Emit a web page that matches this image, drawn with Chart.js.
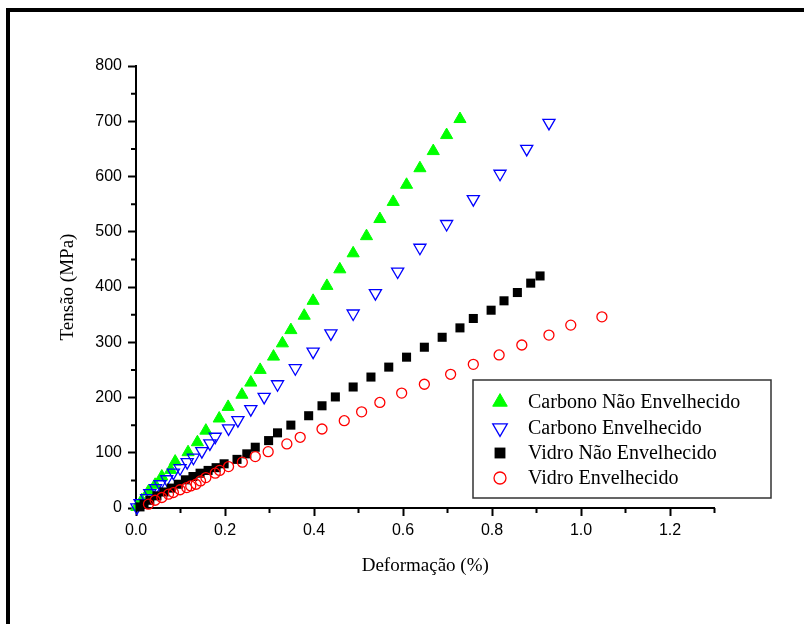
<!DOCTYPE html>
<html>
<head>
<meta charset="utf-8">
<script src="https://cdn.jsdelivr.net/npm/chart.js@4.4.0/dist/chart.umd.min.js"></script>
<style>
  body { margin: 0; background: #fff; }
  #wrap { position: relative; width: 804px; height: 624px; }
  #frame { position: absolute; left: 6px; top: 8px; right: 0; bottom: 0; border-top: 4px solid #000; border-left: 4px solid #000; pointer-events: none; }
</style>
</head>
<body>
<div id="wrap">
  <canvas id="grafico" width="804" height="624"></canvas>
  <div id="frame"></div>
</div>
<script>
// valores
const xTicks = [0, 0.2, 0.4, 0.6, 0.8, 1.0, 1.2]
const xMinor = [0.1, 0.3, 0.5, 0.7, 0.9, 1.1, 1.3]
const yTicks = [0, 100, 200, 300, 400, 500, 600, 700, 800]
const yMinor = [50, 150, 250, 350, 450, 550, 650, 750]

const nomes = ['Carbono Não Envelhecido', 'Carbono Envelhecido', 'Vidro Não Envelhecido', 'Vidro Envelhecido']

const carbNaoX = [0.002, 0.013, 0.028, 0.043, 0.058, 0.078, 0.088, 0.117, 0.138, 0.157, 0.187, 0.207, 0.238, 0.258, 0.279, 0.309, 0.329, 0.348, 0.378, 0.398, 0.429, 0.458, 0.488, 0.518, 0.548, 0.578, 0.608, 0.638, 0.668, 0.698, 0.728]
const carbNaoY = [2, 14, 30, 42, 57, 69, 84, 101, 119, 140, 162, 183, 205, 227, 250, 274, 298, 322, 348, 375, 402, 432, 461, 492, 523, 554, 585, 615, 646, 675, 704]

const carbEnvX = [0.002, 0.009, 0.024, 0.031, 0.044, 0.054, 0.069, 0.084, 0.099, 0.115, 0.129, 0.148, 0.166, 0.178, 0.208, 0.229, 0.258, 0.288, 0.318, 0.358, 0.398, 0.438, 0.488, 0.538, 0.588, 0.638, 0.698, 0.758, 0.818, 0.878, 0.928]
const carbEnvY = [1, 9, 18, 27, 36, 43, 52, 64, 72, 83, 91, 103, 117, 129, 144, 159, 179, 201, 224, 253, 283, 316, 352, 389, 428, 471, 514, 559, 605, 650, 697]

const vidNaoX = [0.009, 0.018, 0.031, 0.047, 0.063, 0.079, 0.095, 0.111, 0.128, 0.144, 0.162, 0.180, 0.198, 0.227, 0.249, 0.268, 0.298, 0.318, 0.348, 0.388, 0.418, 0.448, 0.488, 0.528, 0.568, 0.608, 0.648, 0.688, 0.728, 0.758, 0.798, 0.827, 0.857, 0.887, 0.908]
const vidNaoY = [2, 7, 14, 22, 29, 36, 43, 51, 57, 63, 68, 73, 80, 88, 98, 110, 122, 136, 150, 167, 185, 201, 219, 237, 255, 273, 291, 309, 326, 343, 358, 375, 390, 407, 420]

const vidEnvX = [0.028, 0.043, 0.058, 0.073, 0.084, 0.099, 0.114, 0.123, 0.135, 0.145, 0.157, 0.178, 0.188, 0.208, 0.239, 0.268, 0.297, 0.339, 0.369, 0.418, 0.468, 0.507, 0.548, 0.597, 0.648, 0.707, 0.758, 0.816, 0.867, 0.928, 0.977, 1.047]
const vidEnvY = [7, 14, 19, 25, 28, 33, 37, 40, 43, 49, 55, 63, 68, 75, 83, 93, 102, 116, 128, 143, 158, 174, 191, 208, 224, 242, 260, 277, 295, 313, 331, 346]

function pontos(xs, ys) {
  return xs.map((x, i) => ({ x: x, y: ys[i] }))
}

const fonteNum = { family: "'Liberation Sans', Arial, sans-serif", size: 16 }
const fonteTitulo = { family: "'Liberation Serif', 'Times New Roman', serif", size: 19 }

// ticks menores (o Chart.js nao tem)
const ticksMenores = {
  id: 'ticksMenores',
  afterDraw(chart) {
    const ctx = chart.ctx
    const sx = chart.scales.x
    const sy = chart.scales.y
    ctx.save()
    ctx.strokeStyle = '#000'
    ctx.lineWidth = 2
    ctx.beginPath()
    xMinor.forEach(v => {
      const px = sx.getPixelForValue(v)
      ctx.moveTo(px, sx.top)
      ctx.lineTo(px, sx.top + 5)
    })
    yMinor.forEach(v => {
      const py = sy.getPixelForValue(v)
      ctx.moveTo(sy.right, py)
      ctx.lineTo(sy.right - 5, py)
    })
    ctx.stroke()
    ctx.restore()
  }
}

// legenda dentro do grafico
const legendaCaixa = {
  id: 'legendaCaixa',
  afterDraw(chart) {
    const ctx = chart.ctx
    const caixa = { x: 473, y: 380, w: 298, h: 118 }
    ctx.save()
    ctx.fillStyle = '#fff'
    ctx.fillRect(caixa.x, caixa.y, caixa.w, caixa.h)
    ctx.strokeStyle = '#333'
    ctx.lineWidth = 1.5
    ctx.strokeRect(caixa.x, caixa.y, caixa.w, caixa.h)
    const linhas = [402, 428, 453, 478]
    chart.data.datasets.forEach((ds, i) => {
      ctx.fillStyle = ds.backgroundColor
      ctx.strokeStyle = ds.borderColor
      ctx.lineWidth = ds.borderWidth
      Chart.helpers.drawPoint(ctx, {
        pointStyle: ds.pointStyle,
        rotation: ds.rotation || 0,
        radius: ds.radius * 1.2,
        borderWidth: ds.borderWidth
      }, 500, linhas[i])
      ctx.fillStyle = '#000'
      ctx.font = "20px 'Liberation Serif', 'Times New Roman', serif"
      ctx.textBaseline = 'middle'
      ctx.textAlign = 'left'
      ctx.fillText(ds.label, 528, linhas[i] + 1)
    })
    ctx.restore()
  }
}

const ctx = document.getElementById('grafico')

new Chart(ctx, {
  type: 'scatter',
  data: {
    datasets: [
      {
        label: nomes[0],
        data: pontos(carbNaoX, carbNaoY),
        pointStyle: 'triangle',
        radius: 7,
        backgroundColor: '#00ff00',
        borderColor: '#00ff00',
        borderWidth: 1,
        order: 4,
        clip: false
      },
      {
        label: nomes[1],
        data: pontos(carbEnvX, carbEnvY),
        pointStyle: 'triangle',
        rotation: 180,
        radius: 7,
        backgroundColor: 'rgba(0,0,0,0)',
        borderColor: '#0000ff',
        borderWidth: 1.3,
        order: 3,
        clip: false
      },
      {
        label: nomes[2],
        data: pontos(vidNaoX, vidNaoY),
        pointStyle: 'rect',
        radius: 6.4,
        backgroundColor: '#000000',
        borderColor: '#000000',
        borderWidth: 0,
        order: 2,
        clip: false
      },
      {
        label: nomes[3],
        data: pontos(vidEnvX, vidEnvY),
        pointStyle: 'circle',
        radius: 5,
        backgroundColor: 'rgba(0,0,0,0)',
        borderColor: '#ff0000',
        borderWidth: 1.3,
        order: 1,
        clip: false
      }
    ]
  },
  options: {
    responsive: false,
    animation: false,
    layout: {
      padding: { left: 0, top: 66, right: 89.5, bottom: 0 }
    },
    plugins: {
      legend: { display: false },
      tooltip: { enabled: false }
    },
    scales: {
      x: {
        type: 'linear',
        min: 0,
        max: 1.3,
        afterBuildTicks: s => { s.ticks = xTicks.map(v => ({ value: v })) },
        afterFit: s => { s.height = 116 },
        border: { display: true, color: '#000', width: 2 },
        grid: { drawOnChartArea: false, drawTicks: true, tickLength: 8, tickWidth: 2, tickColor: '#000' },
        ticks: {
          color: '#000',
          font: fonteNum,
          padding: 5,
          maxRotation: 0,
          callback: v => v.toFixed(1)
        },
        title: {
          display: true,
          text: 'Deformação (%)',
          color: '#000',
          font: fonteTitulo,
          padding: { top: 0, bottom: 46.6 }
        }
      },
      y: {
        type: 'linear',
        min: 0,
        max: 800,
        afterBuildTicks: s => { s.ticks = yTicks.map(v => ({ value: v })) },
        afterFit: s => { s.width = 136 },
        border: { display: true, color: '#000', width: 2 },
        grid: { drawOnChartArea: false, drawTicks: true, tickLength: 8, tickWidth: 2, tickColor: '#000' },
        ticks: {
          color: '#000',
          font: fonteNum,
          padding: 6
        },
        title: {
          display: true,
          text: 'Tensão (MPa)',
          color: '#000',
          font: fonteTitulo,
          padding: { top: 56.6, bottom: 0 }
        }
      }
    }
  },
  plugins: [ticksMenores, legendaCaixa]
});
</script>
</body>
</html>
